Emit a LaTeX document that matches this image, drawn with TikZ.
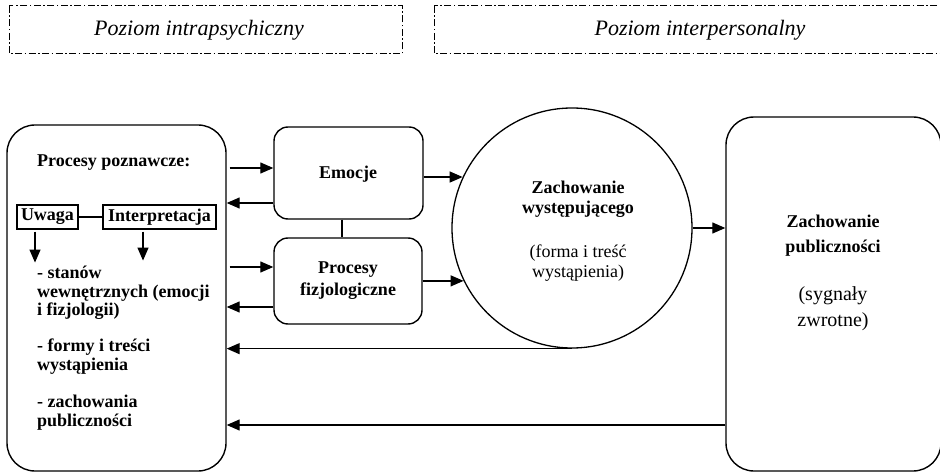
\documentclass[tikz,border=0pt]{standalone}
\usepackage{fontspec}
\setmainfont{Liberation Serif}
\usetikzlibrary{arrows.meta,calc}
\newcommand{\linesL}[1]{\vtop{\halign{##\hfil\cr#1\crcr}}}
\newcommand{\linesC}[1]{\vtop{\halign{\hfil##\hfil\cr#1\crcr}}}
\begin{document}
\begin{tikzpicture}[x=1pt,y=-1pt,
  ln/.style={line width=1.3pt},
  arr/.style={line width=1.3pt,-{Triangle[length=13pt,width=11pt]}},
  bigbox/.style={draw,line width=1.4pt,rounded corners=28pt,inner sep=0pt},
  midbox/.style={draw,line width=1.4pt,rounded corners=14pt,inner sep=0pt},
  smallbox/.style={draw,line width=1.1pt,inner sep=0pt,minimum height=24pt,font=\fontsize{18}{19}\selectfont\bfseries},
  hdr/.style={draw=black,line width=1pt,dash pattern=on 7pt off 2.5pt on 1.5pt off 2.5pt},
  hdrtext/.style={font=\fontsize{22}{24}\selectfont\itshape,inner sep=0pt,anchor=base},
  bt/.style={font=\fontsize{18}{19}\selectfont\bfseries,inner sep=0pt},
  rt/.style={font=\fontsize{18}{20}\selectfont,inner sep=0pt},
]
\useasboundingbox (0,0) rectangle (940,473);
\clip (0,0) rectangle (940,473);

% header boxes
\draw[hdr] (9,6) rectangle (402,54);
\draw[hdr] (434,6) rectangle (975,54);
\node[hdrtext] (h1) at (199,36) {Poziom intrapsychiczny};
\node[hdrtext] (h2) at (700,36) {Poziom interpersonalny};

% main shapes
\node[bigbox,minimum width=219pt,minimum height=346pt] (cog) at (116.5,298) {};
\node[midbox,minimum width=149pt,minimum height=92pt] (emo) at (348.5,173) {};
\node[midbox,minimum width=148pt,minimum height=86pt] (proc) at (348,281) {};
\node[draw,circle,line width=1.3pt,minimum size=240pt,inner sep=0pt] (circ) at (572,228) {};
\node[bigbox,minimum width=215pt,minimum height=354pt] (pub) at (833.5,294) {};

% texts inside boxes
\node[bt,anchor=base] (emot) at (348,179) {Emocje};
\node[bt,anchor=base,font=\fontsize{18}{22}\selectfont\bfseries] (proct) at (348,273) {\linesC{Procesy\cr fizjologiczne}};
\node[bt,anchor=base,font=\fontsize{18}{20}\selectfont\bfseries] (circt) at (578,194) {\linesC{Zachowanie\cr występującego}};
\node[rt,anchor=base] (circr) at (578,258) {\linesC{(forma i treść\cr wystąpienia)}};
\node[bt,anchor=base,font=\fontsize{18}{25}\selectfont\bfseries] (pubt) at (833,228) {\linesC{Zachowanie\cr publiczności}};
\node[rt,anchor=base,font=\fontsize{20}{25}\selectfont] (pubr) at (833,301) {\linesC{(sygnały\cr zwrotne)}};

% left box content
\node[bt,anchor=base west] (cogt) at (37,167) {Procesy poznawcze:};
\node[smallbox,minimum width=61pt] (uw) at (47.5,217) {Uwaga};
\node[smallbox,minimum width=113pt] (int) at (159.5,217) {Interpretacja};
\node[bt,anchor=base west] (l1) at (37,278) {\linesL{- stanów\cr wewnętrznych (emocji\cr i fizjologii)}};
\node[bt,anchor=base west] (l2) at (37,351) {\linesL{- formy i treści\cr wystąpienia}};
\node[bt,anchor=base west] (l3) at (37,407) {\linesL{- zachowania\cr publiczności}};

\draw[line width=1.1pt] (uw.east) -- (int.west);
\coordinate (ua) at ($(uw.south)+(-12.5,2)$);
\coordinate (ub) at ($(ua)+(0,31)$);
\draw[arr] (ua) -- (ub);
\coordinate (ia) at ($(int.south)+(-16.5,2)$);
\coordinate (ib) at ($(ia)+(0,29)$);
\draw[arr] (ia) -- (ib);

% connectors between cognition and emotion/physiology
\coordinate (e1) at ($(emo.west)+(0,-5)$);
\coordinate (e2) at ($(emo.west)+(0,30)$);
\coordinate (p1) at ($(proc.west)+(0,-14)$);
\coordinate (p2) at ($(proc.west)+(0,26)$);
\draw[arr] ([xshift=3pt]cog.east |- e1) -- (e1);
\draw[arr] (e2) -- (cog.east |- e2);
\draw[arr] ([xshift=3pt]cog.east |- p1) -- (p1);
\draw[arr] (p2) -- (cog.east |- p2);

\coordinate (ep) at ($(emo.south)+(-6.5,0)$);
\draw[ln] (ep) -- (ep |- proc.north);

% to the circle
\draw[arr] (emo.east |- circ.155) -- (circ.155);
\draw[arr] (proc.east |- circ.206.5) -- (circ.206.5);

% circle to audience
\draw[arr] (circ.east) -- (pub.west |- circ.east);

% feedback lines
\draw[arr] (circ.south) -- (cog.east |- circ.south);
\coordinate (fb) at ($(pub.west)+(0,131)$);
\draw[arr] (fb) -- (cog.east |- fb);
\end{tikzpicture}
\end{document}
